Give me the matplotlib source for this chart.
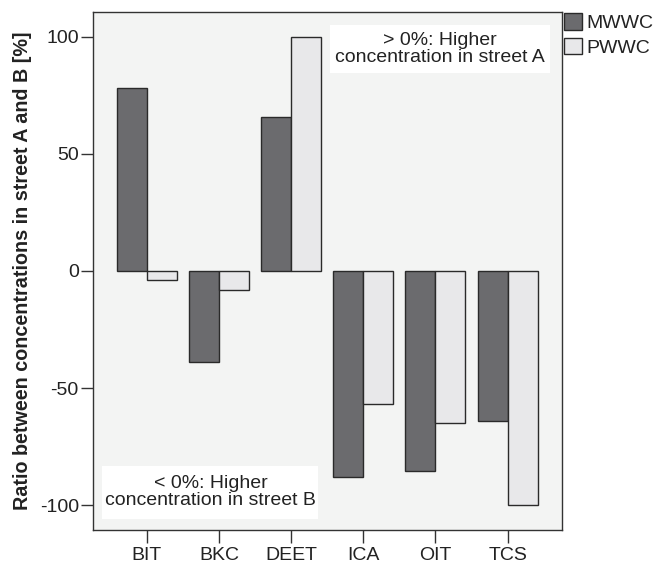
import matplotlib
matplotlib.use("Agg")
import matplotlib.pyplot as plt
from matplotlib.patches import Rectangle, Patch
import numpy as np

plt.rcParams['font.family'] = ['Liberation Sans', 'DejaVu Sans']

categories = ["BIT", "BKC", "DEET", "ICA", "OIT", "TCS"]
mwwc = [78.2, -39.0, 65.9, -87.8, -85.2, -63.9]
pwwc = [-3.8, -8.1, 100.0, -56.6, -65.0, -100.0]
yticks = [-100, -50, 0, 50, 100]
series_names = ["MWWC", "PWWC"]

W, H = 654, 566
fig = plt.figure(figsize=(W / 100, H / 100), dpi=100)
ax = fig.add_axes([92.7 / W, 1 - 530 / H, 469 / W, 518.3 / H])

bg = "#f3f4f3"
c_m = "#6b6b6e"
c_p = "#e8e8ea"
edge = "#2a2a2a"
ax.set_facecolor(bg)

x = np.arange(len(categories))
bw = 0.415
ax.bar(x - bw, mwwc, width=bw, align='edge', color=c_m, edgecolor=edge, linewidth=1.0, zorder=3)
ax.bar(x, pwwc, width=bw, align='edge', color=c_p, edgecolor=edge, linewidth=1.0, zorder=3)

ax.set_xlim(-0.75, 5.75)
ax.set_ylim(-110.6, 110.7)
ax.set_xticks(x)
ax.set_xticklabels(categories)
ax.set_yticks(yticks)
ax.set_yticklabels([str(v) for v in yticks])
ax.tick_params(axis='both', labelsize=14, length=9, width=1.0, color="#333333", labelcolor="#222222")
ax.tick_params(axis='y', pad=1)
ax.tick_params(axis='x', pad=3)
for s in ax.spines.values():
    s.set_color("#333333")
    s.set_linewidth(1.0)

ax.set_ylabel("Ratio between concentrations in street A and B [%]", fontsize=14.2,
              fontweight='bold', color="#222222")
ax.yaxis.set_label_coords(-(92.7 - 32) / 469, 0.5)

# annotation boxes
ax.add_patch(Rectangle((0.506, 0.881), 0.975 - 0.506, 0.974 - 0.881, transform=ax.transAxes,
                       facecolor='white', edgecolor='none', zorder=4))
ax.text(0.741, 0.928, "> 0%: Higher\nconcentration in street A", transform=ax.transAxes,
        ha='center', va='center', fontsize=14, linespacing=1.0, color="#222222", zorder=5)
ax.add_patch(Rectangle((0.0205, 0.0212), 0.4797 - 0.0205, 0.1235 - 0.0212, transform=ax.transAxes,
                       facecolor='white', edgecolor='none', zorder=4))
ax.text(0.251, 0.0724, "< 0%: Higher\nconcentration in street B", transform=ax.transAxes,
        ha='center', va='center', fontsize=14, linespacing=1.0, color="#222222", zorder=5)

handles = [Patch(facecolor=c_m, edgecolor=edge, linewidth=1.0),
           Patch(facecolor=c_p, edgecolor=edge, linewidth=1.0)]
fig.legend(handles, series_names, loc='upper left', bbox_to_anchor=(564 / W, 1 - 13 / H),
           frameon=False, fontsize=14, borderpad=0, borderaxespad=0,
           handlelength=0.93, handleheight=0.93, handletextpad=0.2, labelspacing=0.3,
           labelcolor="#222222")

fig.savefig("out.png", dpi=100)
